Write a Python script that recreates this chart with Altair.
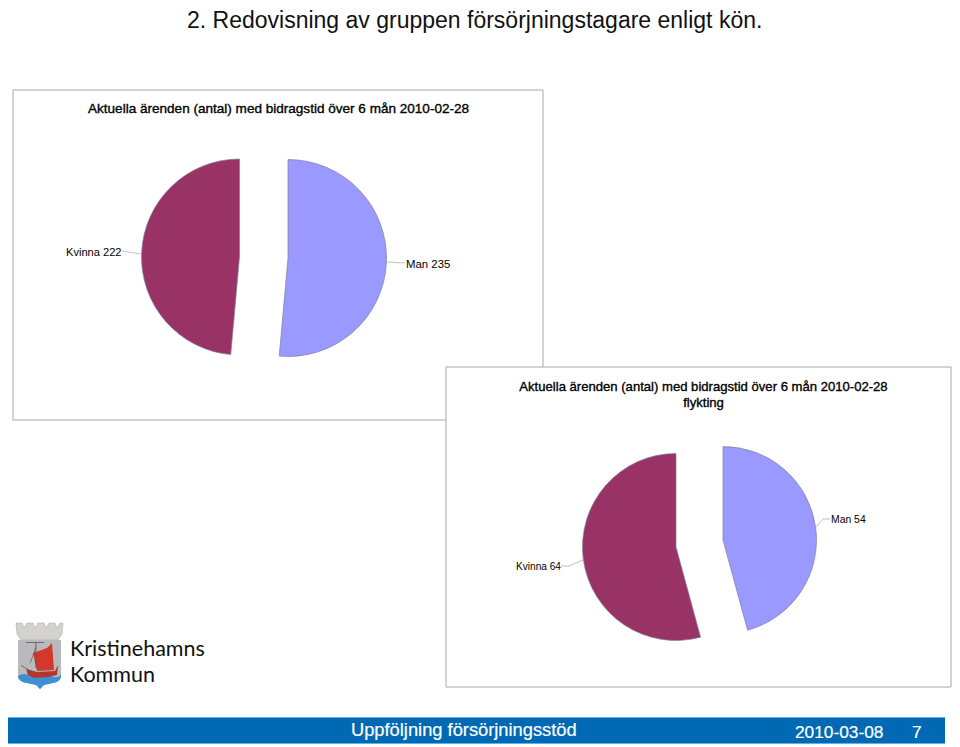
import altair as alt
import pandas as pd

page_title = "2. Redovisning av gruppen försörjningstagare enligt kön."
chart1_title = "Aktuella ärenden (antal) med bidragstid över 6 mån 2010-02-28"
chart2_title = ["Aktuella ärenden (antal) med bidragstid över 6 mån 2010-02-28", "flykting"]
genders = ["Man", "Kvinna"]
pie1_values = [235, 222]
pie2_values = [54, 64]
footer_title = "Uppföljning försörjningsstöd"
footer_date = "2010-03-08"
footer_page = "7"
logo_lines = ["Kristinehamns", "Kommun"]

OFF = 8
MAROON = "#993366"
PERIWINKLE = "#9999FF"
FONT = "Liberation Sans"
BLUE = "#0069B4"
dummy = pd.DataFrame({"a": [0]})
theta_scale = alt.Scale(domain=[0, 1], range=[0, 6.283185307])


def X(v):
    return alt.value(v - OFF)


def Y(v):
    return alt.value(v - OFF)


def slices(values):
    total = sum(values)
    rows, run = [], 0
    for g, v in zip(genders, values):
        rows.append({"gender": g, "value": v, "start": run / total, "end": (run + v) / total})
        run += v
    return pd.DataFrame(rows)


def arc(df, gender, cx, cy, r, color):
    return (
        alt.Chart(df[df.gender == gender])
        .mark_arc(outerRadius=r, color=color, stroke="#7f7f9f", strokeWidth=0.7)
        .encode(
            theta=alt.Theta("start:Q", scale=theta_scale),
            theta2="end:Q",
            x=X(cx),
            y=Y(cy),
        )
    )


def rect(x0, y0, x1, y1, fill, stroke=None, sw=1):
    kw = {"fill": fill}
    if stroke:
        kw.update(stroke=stroke, strokeWidth=sw)
    return alt.Chart(dummy).mark_rect(**kw).encode(x=X(x0), x2=X(x1), y=Y(y0), y2=Y(y1))


def text(s, x, y, size=12, align="left", color="#000000", weight="normal", font=FONT, sw=0):
    kw = dict(align=align, baseline="alphabetic", fontSize=size, color=color, fontWeight=weight, font=font)
    if sw:
        kw.update(stroke=color, strokeWidth=sw)
    return alt.Chart(dummy).mark_text(**kw).encode(x=X(x), y=Y(y), text=alt.value(s))


def leader(x0, y0, x1, y1):
    return (
        alt.Chart(dummy)
        .mark_rule(color="#b0b0b0", strokeWidth=0.8)
        .encode(x=X(x0), y=Y(y0), x2=X(x1), y2=Y(y1))
    )


def shape(path, fill, stroke=None):
    kw = dict(shape=path, size=4, filled=True, fill=fill, opacity=1, strokeWidth=0.5)
    if stroke:
        kw["stroke"] = stroke
    else:
        kw["strokeWidth"] = 0
    return alt.Chart(dummy).mark_point(**kw).encode(x=X(0), y=Y(0))


p1 = slices(pie1_values)
p2 = slices(pie2_values)

layers = [
    text(page_title, 187, 28, size=23, color="#111111"),
    # panel 1
    rect(13, 90, 543, 420, "#FFFFFF", "#A8A8A8"),
    text(chart1_title, 88, 113, size=13.55, sw=0.35),
    arc(p1, "Kvinna", 239.5, 257, 98, MAROON),
    arc(p1, "Man", 288, 258, 98.5, PERIWINKLE),
    leader(122, 251, 141, 254),
    leader(386, 262, 405, 263),
    text(f"Kvinna {pie1_values[1]}", 66, 255.5, size=11.1),
    text(f"Man {pie1_values[0]}", 406, 267.5, size=11.4),
    # panel 2
    rect(446, 367, 951, 687, "#FFFFFF", "#A8A8A8"),
    text(chart2_title[0], 703.5, 391, size=13.1, align="center", sw=0.35),
    text(chart2_title[1], 703.5, 407, size=13.1, align="center", sw=0.35),
    arc(p2, "Kvinna", 676, 547, 93.5, MAROON),
    arc(p2, "Man", 723, 540, 93.5, PERIWINKLE),
    leader(816, 527, 823, 519),
    leader(823, 519, 830, 519),
    leader(561, 566, 569, 566),
    leader(569, 566, 583, 560),
    text(f"Man {pie2_values[0]}", 831, 523, size=10.4),
    text(f"Kvinna {pie2_values[1]}", 516, 569.5, size=10.1),
    # logo
    shape("M16 623 L22 623 L24 628 L27 623 L33 623 L35 628 L38 623 L44 623 L46 628 L49 623 L55 623 L57 628 L60 623 L63 623 "
          "L62 634 L58 640 L21 640 L17 634 Z", "#D4D2CC", "#A5A5A5"),
    shape("M18 640 L61 640 L61 676 Q60 682 53 683 L44 685 L40 689 L36 685 L27 683 Q19 682 18 676 Z", "#B9BABD"),
    shape("M18 676 Q24 672 30 676 Q35 679 40 676 Q46 672 51 676 Q56 679 61 675 L61 677 Q60 682 53 683 L44 685 L40 689 L36 685 L27 683 Q19 682 18 677 Z", "#3F8FD6"),
    shape("M33 653 L47 648 L52 643 L54 670 L37 671 Z", "#D4372C"),
    shape("M26 669 L37 672 L55 671 L58 665 L57 675 L48 677 L34 678 L28 675 Z", "#B5342B"),
    shape("M35.5 642 L36.3 642 L36.3 668 L35.5 668 Z M26 642 L44 642 L44 642.7 L26 642.7 Z M21 665 L33 672 L33 672.7 L21 665.7 Z M30 663 L36 646 L36.6 646 L30.6 663 Z", "#55555A"),
    text(logo_lines[0], 70, 656, size=21.5, font="Lato", color="#111111"),
    text(logo_lines[1], 70, 682, size=21.5, font="Lato", color="#111111"),
    # footer
    rect(8, 717, 945, 744, "#5FB0E8"),
    rect(8, 718, 945, 743, BLUE),
    text(footer_title, 351, 736, size=18.3, color="#FFFFFF", sw=0.2),
    text(footer_date, 795, 738, size=17.3, color="#FFFFFF", sw=0.2),
    text(footer_page, 912, 738, size=17.3, color="#FFFFFF", sw=0.2),
]

chart = (
    alt.layer(*layers)
    .properties(width=944, height=739, padding=0, autosize=alt.AutoSizeParams(type="none"), background="#FFFFFF")
    .configure_view(strokeWidth=0)
)

chart.save("out.html", embed_options={"renderer": "svg", "actions": False})
